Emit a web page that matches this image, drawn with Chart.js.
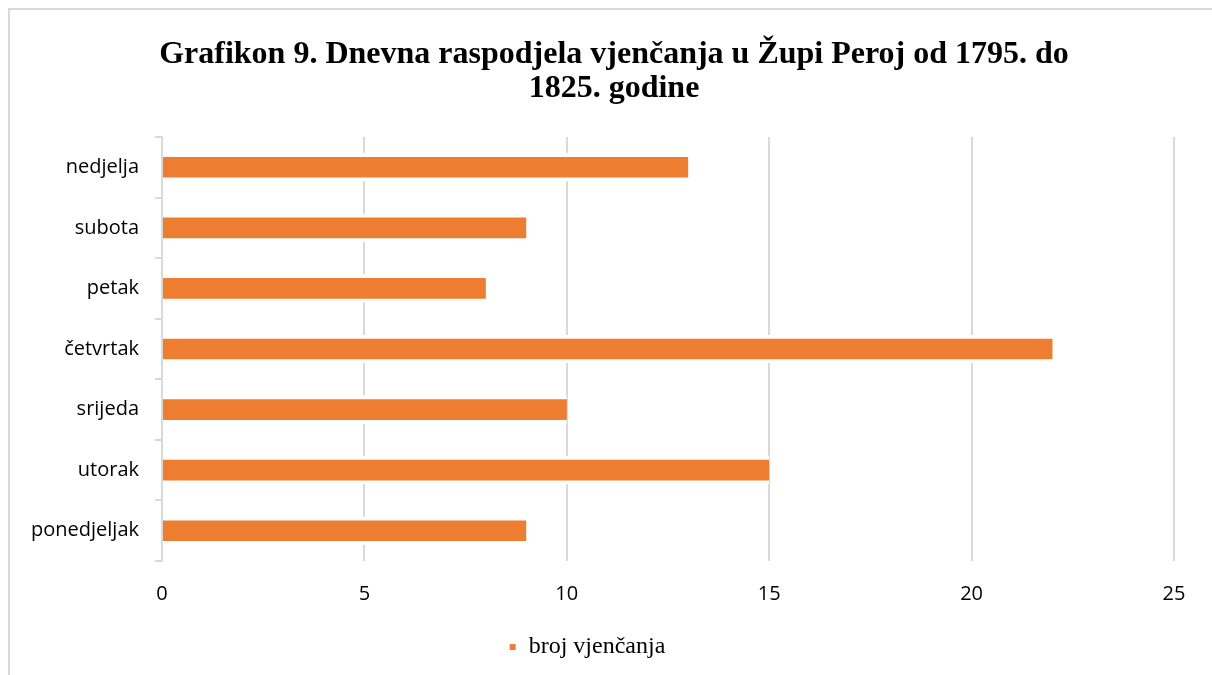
<!DOCTYPE html>
<html>
<head>
<meta charset="utf-8">
<script src="https://cdn.jsdelivr.net/npm/chart.js@4"></script>
<style>
  body { margin: 0; background: #fff; }
  #frame { position: absolute; left: 8px; top: 8px; width: 1300px; height: 800px; border: 2px solid #d9d9d9; }
  #wrap { position: absolute; left: 0; top: 0; width: 1212px; height: 675px; }
</style>
</head>
<body>
<div id="frame"></div>
<div id="wrap"><canvas id="chart" width="1212" height="675"></canvas></div>
<script>
// days as Excel lists them (bottom to top)
const days = ["ponedjeljak", "utorak", "srijeda", "četvrtak", "petak", "subota", "nedjelja"];
const weddings = [9, 15, 10, 22, 8, 9, 13];
const xTicks = [0, 5, 10, 15, 20, 25];
const seriesName = "broj vjenčanja";
const titleLines = ["Grafikon 9. Dnevna raspodjela vjenčanja u Župi Peroj od 1795. do", "1825. godine"];

// title is centred on the whole frame, not on the plot, so draw it by hand
const frameTitle = {
  id: "frameTitle",
  afterDraw(chart) {
    const c = chart.ctx;
    c.save();
    c.fillStyle = "#000";
    c.font = "bold 32px 'Liberation Serif'";
    c.textAlign = "center";
    c.textBaseline = "middle";
    titleLines.forEach((t, i) => c.fillText(t, 614, 55 + i * 34));
    c.restore();
  }
};

const ctx = document.getElementById("chart").getContext("2d");
new Chart(ctx, {
  type: "bar",
  data: {
    labels: days,
    datasets: [{
      label: seriesName,
      data: weddings,
      backgroundColor: "#ED7D31",
      borderColor: "#ffffff",
      borderWidth: { top: 4, bottom: 4, left: 0, right: 0 },
      borderSkipped: false,
      barThickness: 28
    }]
  },
  plugins: [frameTitle],
  options: {
    indexAxis: "y",
    responsive: false,
    animation: false,
    layout: { padding: { left: 0, right: 38, top: 137, bottom: 6 } },
    plugins: {
      legend: {
        position: "bottom",
        labels: {
          color: "#000",
          font: { family: "Liberation Serif", size: 24 },
          usePointStyle: true,
          pointStyle: "rect",
          boxWidth: 8,
          boxHeight: 8
        }
      },
      tooltip: { enabled: false }
    },
    scales: {
      x: {
        min: 0,
        max: 25,
        afterBuildTicks: s => { s.ticks = xTicks.map(v => ({ value: v })); },
        grid: { color: "#d9d9d9", lineWidth: 2, drawTicks: false },
        border: { display: false },
        ticks: { color: "#000", padding: 21, font: { family: "Open Sans", size: 20 } },
        afterFit: s => { s.height = 64; }
      },
      y: {
        reverse: true,
        grid: { offset: true, drawOnChartArea: false, color: "#d9d9d9", lineWidth: 2, tickLength: 7 },
        border: { color: "#d9d9d9", width: 2 },
        ticks: { color: "#000", padding: 16, font: { family: "Open Sans", size: 20 } },
        afterFit: s => { s.width = 162; }
      }
    }
  }
});
</script>
</body>
</html>
